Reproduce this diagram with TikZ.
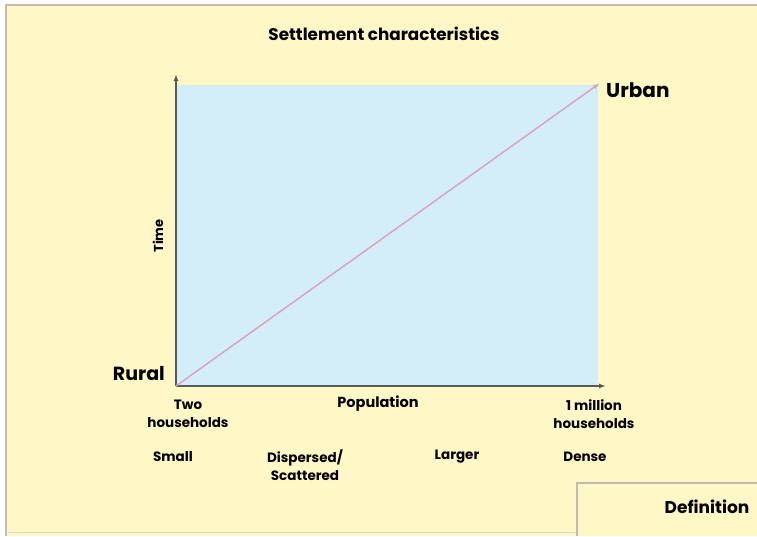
\documentclass[tikz,border=0pt]{standalone}
\usepackage{fontspec}
\setmainfont{Poppins}
\usetikzlibrary{arrows.meta}
\definecolor{bgyel}{HTML}{FFF7C6}
\definecolor{plotblue}{HTML}{D3EDF9}
\definecolor{framegray}{HTML}{C4BAB2}
\definecolor{axisgray}{HTML}{5A5A55}
\definecolor{diagpink}{HTML}{D8A6BE}
\begin{document}
\begin{tikzpicture}[x=1pt,y=-1pt,
  lbl/.style={font=\bfseries\fontsize{13.5}{18}\selectfont, align=center, inner sep=0pt},
  big/.style={font=\bfseries\fontsize{20}{22}\selectfont, inner sep=0pt},
  axisline/.style={draw=axisgray, line width=1.4pt, -{Latex[length=7pt,width=5pt]}}]
\useasboundingbox (0,0) rectangle (757,536);
\fill[white] (0,0) rectangle (757,536);
\fill[bgyel] (6,5) rectangle (757,536);
\draw[framegray, line width=2.5pt] (6,536) -- (6,5) -- (757,5);
\draw[framegray!60, line width=1pt] (6,532) -- (576,532);
% plot area
\fill[plotblue] (176,85) rectangle (598,386);
\coordinate (O) at (176,386);
\coordinate (Ytip) at (176,74);
\coordinate (Xtip) at (606,386);
\coordinate (U) at (600,83);
\draw[axisline] (O) -- (Ytip);
\draw[axisline] (O) -- (Xtip);
\draw[diagpink, line width=1.5pt, -{Latex[length=7pt,width=5pt]}] (O) -- (U);
% definition box
\fill[bgyel] (577,483) rectangle (757,536);
\draw[framegray, line width=2.5pt] (577,536) -- (577,483) -- (757,483);
% texts
\node[font=\bfseries\fontsize{16.8}{19}\selectfont, inner sep=0pt] (title) at (384,34) {Settlement characteristics};
\node[big, anchor=west] (urban) at (606,90) {Urban};
\node[big, font=\bfseries\fontsize{19}{21}\selectfont, anchor=east] (rural) at (165,374) {Rural};
\node[lbl, font=\bfseries\fontsize{13}{15}\selectfont, rotate=90] (time) at (158,236) {Time};
\node[font=\bfseries\fontsize{14.5}{16}\selectfont, inner sep=0pt] (pop) at (378,404) {Population};
\node[lbl] (two) at (188,414) {Two\\households};
\node[lbl] (mil) at (594,414) {1 million\\households};
\node[lbl] (small) at (173,457) {Small};
\node[lbl] (disp) at (305,465) {Dispersed/\\Scattered};
\node[lbl] (larger) at (457,457) {Larger};
\node[lbl] (dense) at (585,457) {Dense};
\node[font=\bfseries\fontsize{17}{19}\selectfont, inner sep=0pt] (def) at (707,507) {Definition};
\end{tikzpicture}
\end{document}
